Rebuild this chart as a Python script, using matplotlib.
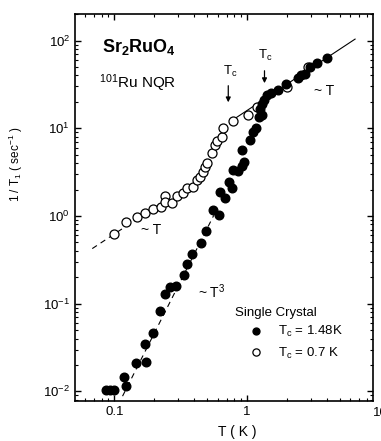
import numpy as np
import matplotlib
matplotlib.use("Agg")
import matplotlib.pyplot as plt

plt.rcParams["font.family"] = ["Liberation Sans", "DejaVu Sans"]
plt.rcParams["mathtext.fontset"] = "custom"
plt.rcParams["mathtext.rm"] = "Liberation Sans"
plt.rcParams["mathtext.it"] = "Liberation Sans:italic"
plt.rcParams["mathtext.bf"] = "Liberation Sans:bold"

# Tc = 1.48 K sample (filled)
T_filled = [0.087, 0.0933, 0.100, 0.118, 0.123, 0.145, 0.173, 0.171, 0.195, 0.220,
            0.242, 0.264, 0.293, 0.334, 0.349, 0.387, 0.445, 0.493, 0.548, 0.608,
            0.629, 0.681, 0.723, 0.768, 0.782, 0.853, 0.914, 0.946, 0.914, 1.05,
            1.115, 1.175, 1.217, 1.282, 1.259, 1.293, 1.327, 1.398, 1.524, 1.692,
            1.977, 2.415, 2.543, 2.727, 2.973, 3.357, 3.960]
R_filled = [0.0104, 0.0104, 0.0104, 0.0146, 0.0114, 0.0211, 0.0216, 0.0343, 0.0469, 0.0826,
            0.129, 0.153, 0.161, 0.212, 0.287, 0.369, 0.492, 0.666, 1.156, 1.026,
            1.88, 1.60, 2.44, 2.09, 3.35, 3.26, 3.72, 4.18, 5.66, 7.36,
            9.08, 9.95, 13.5, 14.2, 16.6, 18.9, 21.0, 23.7, 25.3, 27.3,
            32.0, 37.0, 40.5, 41.6, 50.0, 55.6, 62.5]

# Tc = 0.7 K sample (open)
T_open = [0.0983, 0.122, 0.147, 0.170, 0.196, 0.224, 0.242, 0.240, 0.270, 0.294,
          0.330, 0.352, 0.393, 0.418, 0.441, 0.467, 0.485, 0.498, 0.543, 0.572,
          0.592, 0.642, 0.661, 0.786, 1.02, 1.18, 1.99, 2.89]
R_open = [0.623, 0.861, 0.974, 1.09, 1.19, 1.27, 1.69, 1.46, 1.41, 1.71,
          1.81, 2.07, 2.14, 2.57, 2.79, 3.17, 3.65, 3.97, 5.23, 6.45,
          7.07, 7.96, 10.1, 12.1, 14.2, 17.6, 29.8, 50.4]

# guide lines
T_lin_hi = np.array([0.75, 6.5])
T_lin_lo = np.array([0.068, 0.16])
T_cube = np.array([0.115, 0.56])

fig = plt.figure(figsize=(3.81, 4.41), dpi=100)
ax = fig.add_axes([75 / 381, 1 - 400.7 / 441, 298 / 381, 386.7 / 441])

ax.plot(T_lin_hi, 16.0 * T_lin_hi, color="black", lw=0.8)
ax.plot(T_lin_lo, 6.25 * T_lin_lo, color="black", lw=0.8, dashes=(5, 4))
ax.plot(T_cube, 5.8 * T_cube ** 3, color="black", lw=0.8, dashes=(5, 4))

ax.plot(T_open, R_open, "o", ms=6.5, mfc="white", mec="black", mew=0.9,
        label=r"T$_\mathrm{c}$ = 0.7 K", zorder=3)
ax.plot(T_filled, R_filled, "o", ms=6.2, mfc="black", mec="black",
        label=r"T$_\mathrm{c}$ = 1.48K", zorder=4)

ax.set_xscale("log")
ax.set_yscale("log")
ax.set_xlim(0.0504, 8.87)
ax.set_ylim(0.00783, 201)
ax.set_xticks([0.1, 1])
ax.set_xticklabels(["0.1", "1"])
ax.annotate("10", xy=(10, 0), xycoords=("data", "axes fraction"),
            xytext=(0, -4.5), textcoords="offset points",
            ha="center", va="top", fontsize=9.5, annotation_clip=False)

ax.tick_params(which="both", direction="in", top=True, right=True, labelsize=9.5)
ax.tick_params(which="major", length=4, width=1)
ax.tick_params(which="minor", length=2.2, width=0.8)
for s in ax.spines.values():
    s.set_linewidth(1.2)

ax.set_xlabel("T ( K )", fontsize=10)
ax.xaxis.set_label_coords(0.544, -0.062)
ax.set_ylabel(r"1 / T$_1$ ( sec$^{-1}$ )", fontsize=8.5)
ax.yaxis.set_label_coords(-0.168, 0.612)

ax.text(0.153, 84.6, r"$\mathbf{Sr_2RuO_4}$", fontsize=13, ha="center", va="center")
ax.text(0.149, 32.9, r"$^{101}$Ru NQR", fontsize=11, ha="center", va="center")
ax.text(0.74, 43.9, r"T$_\mathrm{c}$", fontsize=9.5, ha="center", va="center")
ax.text(1.38, 68.5, r"T$_\mathrm{c}$", fontsize=9.5, ha="center", va="center")
ax.annotate("", xy=(0.72, 18.4), xytext=(0.72, 32.9),
            arrowprops=dict(arrowstyle="-|>", color="black", lw=0.9, mutation_scale=7))
ax.annotate("", xy=(1.35, 30.4), xytext=(1.35, 48.7),
            arrowprops=dict(arrowstyle="-|>", color="black", lw=0.9, mutation_scale=7))
ax.text(3.79, 26.6, "~ T", fontsize=10, ha="center", va="center")
ax.text(0.188, 0.692, "~ T", fontsize=10, ha="center", va="center")
ax.text(0.543, 0.136, r"~ T$^3$", fontsize=10, ha="center", va="center")

ax.text(0.537, 0.228, "Single Crystal", transform=ax.transAxes,
        fontsize=9.5, ha="left", va="center")
handles, labels = ax.get_legend_handles_labels()
ax.legend(handles[::-1], labels[::-1], loc="upper left", bbox_to_anchor=(0.585, 0.198),
          frameon=False, fontsize=9.5, markerscale=0.8, handlelength=1.0,
          handletextpad=1.2, labelspacing=0.5, borderpad=0, borderaxespad=0)

fig.savefig("out.png", dpi=100)
